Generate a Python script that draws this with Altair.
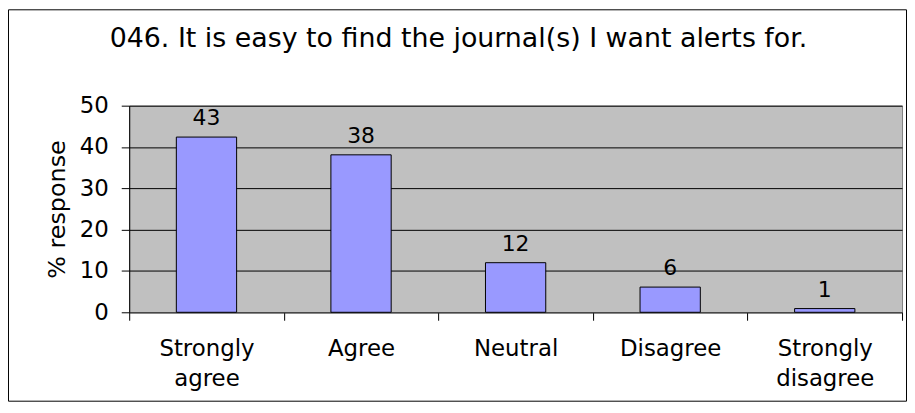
import altair as alt
import pandas as pd

categories = ["Strongly agree", "Agree", "Neutral", "Disagree", "Strongly disagree"]
values = [42.4, 38.1, 12.0, 6.1, 0.9]
labels = ["43", "38", "12", "6", "1"]
title_text = "046. It is easy to find the journal(s) I want alerts for."
y_ticks = [0, 10, 20, 30, 40, 50]

df = pd.DataFrame({"cat": categories, "val": values, "lab": labels})

FONT = "DejaVu Sans"
W, H = 778, 208

x_enc = alt.X(
    "cat:N",
    sort=categories,
    scale=alt.Scale(paddingInner=0, paddingOuter=0),
    axis=alt.Axis(
        title=None,
        labelAngle=0,
        tickBand="extent",
        tickSize=8,
        tickColor="black",
        domainColor="#555555",
        labelFont=FONT,
        labelFontSize=23,
        labelColor="black",
        labelPadding=18,
        labelLineHeight=30,
        labelExpr="split(datum.label, ' ')",
        grid=False,
    ),
)
y_enc = alt.Y(
    "val:Q",
    scale=alt.Scale(domain=[0, 50], nice=False),
    axis=alt.Axis(
        values=y_ticks,
        title="% response",
        titleFont=FONT,
        titleFontSize=24,
        titleFontWeight="normal",
        titleColor="black",
        titlePadding=10,
        labelFont=FONT,
        labelFontSize=23,
        labelColor="black",
        labelPadding=13,
        tickSize=8,
        tickColor="black",
        domainColor="black",
        grid=True,
        gridColor="black",
        gridWidth=1,
    ),
)

bars = alt.Chart(df).mark_bar(
    width=alt.RelativeBandSize(0.39), color="#9999FF", stroke="black", strokeWidth=1
).encode(x=x_enc, y=y_enc)

texts = alt.Chart(df).mark_text(
    baseline="bottom", dy=-7, font=FONT, fontSize=22, color="black"
).encode(x=alt.X("cat:N", sort=categories), y="val:Q", text="lab:N")

one = pd.DataFrame({"a": [0]})
border = alt.Chart(one).mark_rect(
    fill="white", fillOpacity=0, stroke="black", strokeWidth=1
).encode(
    x=alt.value(-121.5), x2=alt.value(W + 4.5), y=alt.value(-96.5), y2=alt.value(H + 89.5)
)
title = alt.Chart(one).mark_text(
    font=FONT, fontSize=27, color="black", align="center", baseline="alphabetic"
).encode(x=alt.value(331.5), y=alt.value(-59.5), text=alt.value(title_text))

chart = (
    alt.layer(bars, texts, border, title)
    .properties(
        width=W,
        height=H,
        autosize=alt.AutoSizeParams(type="none"),
        padding={"left": 122, "top": 97, "right": 5, "bottom": 90},
        background="white",
    )
    .configure_view(fill="#C0C0C0", stroke="#808080", strokeWidth=1)
)

chart.save("out.html", embed_options={"renderer": "svg", "actions": False})
